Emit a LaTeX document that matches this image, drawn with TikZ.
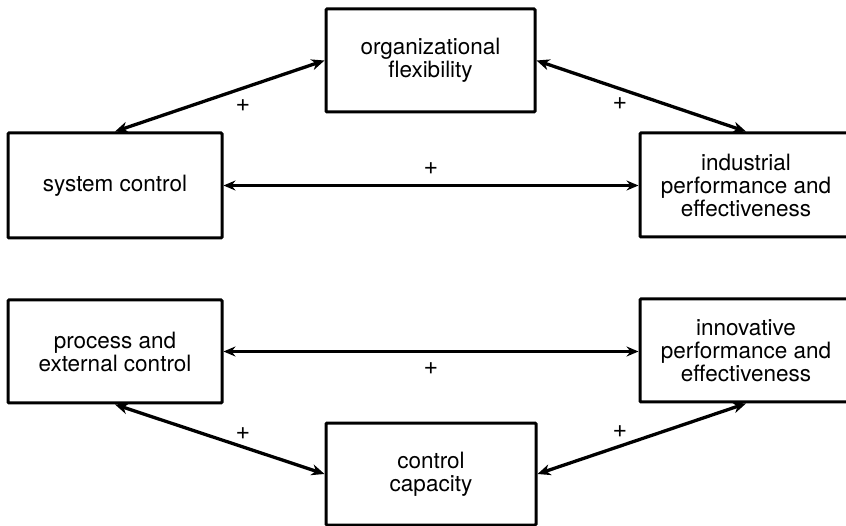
\documentclass[tikz,border=0pt]{standalone}
\usepackage{fontspec}
\setmainfont{TeX Gyre Heros}
\usetikzlibrary{arrows.meta}
\begin{document}
\begin{tikzpicture}[x=1pt,y=-1pt,
  box/.style={draw, line width=3pt, rounded corners=1pt, align=center,
    font=\fontsize{22.5}{23}\selectfont, inner sep=0pt},
  link/.style={{Stealth[length=13pt,width=11pt,inset=4pt]}-{Stealth[length=13pt,width=11pt,inset=4pt]}, line width=3.3pt},
  flat/.style={{Stealth[length=12pt,width=10pt,inset=4pt]}-{Stealth[length=12pt,width=10pt,inset=4pt]}, line width=2.5pt},
  sign/.style={font=\fontsize{25}{25}\selectfont, inner sep=0pt}]
\useasboundingbox (0,0) rectangle (846,526);
\clip (0,0) rectangle (846,526);

% boxes
\node[box, minimum width=209pt, minimum height=103pt] (org) at (430.5,60.5) {organizational\\flexibility};
\node[box, minimum width=214pt, minimum height=105pt] (sys) at (115,185.5) {system control};
\node[box, minimum width=212pt, minimum height=104pt] (ind) at (746,185) {industrial\\performance and\\effectiveness};
\node[box, minimum width=214pt, minimum height=103pt] (proc) at (115,351.5) {process and\\external control};
\node[box, minimum width=212pt, minimum height=103pt] (inn) at (746,350.5) {innovative\\performance and\\effectiveness};
\node[box, minimum width=210pt, minimum height=102pt] (cap) at (431,474) {control\\capacity};

% connectors
\draw[link] (sys.north) -- (org.west);
\draw[link] (org.east) -- (ind.north);
\draw[flat] (sys.east) -- (sys.east -| ind.west);
\draw[flat] (proc.east) -- (proc.east -| inn.west);
\draw[link] (proc.south) -- (cap.west);
\draw[link] (cap.east) -- (inn.south);

% signs
\node[sign] (s1) at (243,106) {+};
\node[sign] (s2) at (620,104) {+};
\node[sign] (s3) at (431,169) {+};
\node[sign] (s4) at (431,369) {+};
\node[sign] (s5) at (243,434) {+};
\node[sign] (s6) at (620,432) {+};
\end{tikzpicture}
\end{document}
